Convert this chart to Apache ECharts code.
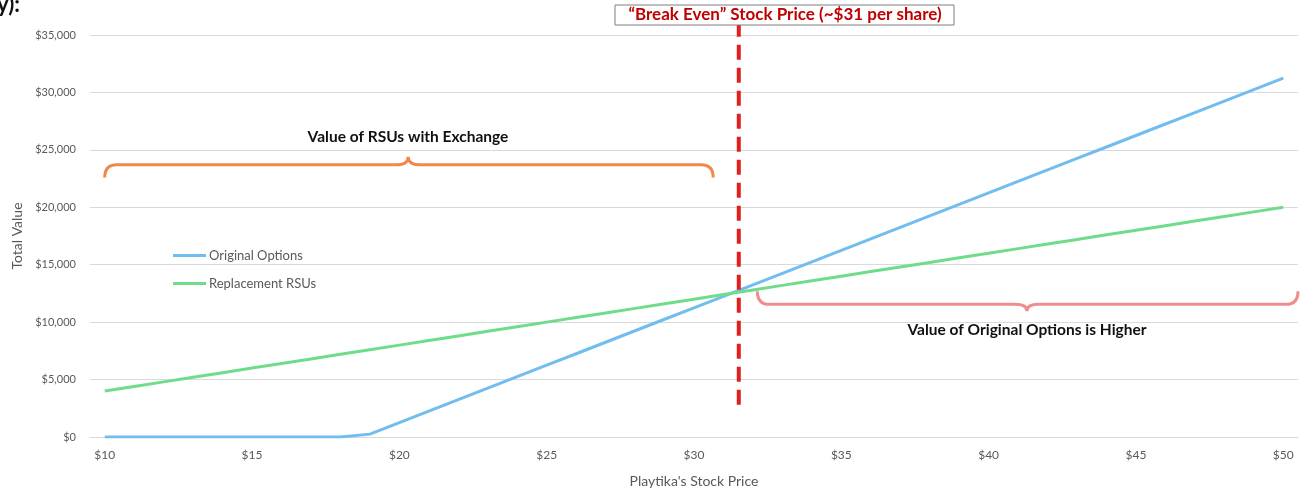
<!DOCTYPE html>
<html>
<head>
<meta charset="utf-8">
<script src="https://cdn.jsdelivr.net/npm/echarts@6/dist/echarts.min.js"></script>
<style>
  html, body { margin: 0; padding: 0; background: #fff; }
  #chart { width: 1307px; height: 493px; }
</style>
</head>
<body>
<div id="chart"></div>
<script>
var prices = ['$10','$11','$12','$13','$14','$15','$16','$17','$18','$19','$20',
  '$21','$22','$23','$24','$25','$26','$27','$28','$29','$30',
  '$31','$32','$33','$34','$35','$36','$37','$38','$39','$40',
  '$41','$42','$43','$44','$45','$46','$47','$48','$49','$50'];

var originalOptions = [0, 0, 0, 0, 0, 0, 0, 0, 0, 250, 1250,
  2250, 3250, 4250, 5250, 6250, 7250, 8250, 9250, 10250, 11250,
  12250, 13250, 14250, 15250, 16250, 17250, 18250, 19250, 20250, 21250,
  22250, 23250, 24250, 25250, 26250, 27250, 28250, 29250, 30250, 31250];

var replacementRSUs = [4000, 4400, 4800, 5200, 5600, 6000, 6400, 6800, 7200, 7600, 8000,
  8400, 8800, 9200, 9600, 10000, 10400, 10800, 11200, 11600, 12000,
  12400, 12800, 13200, 13600, 14000, 14400, 14800, 15200, 15600, 16000,
  16400, 16800, 17200, 17600, 18000, 18400, 18800, 19200, 19600, 20000];

// break-even price and the ends of the dashed marker (value units)
var breakEven = 31.52;
var breakEvenSpan = [2800, 35900];

// braces: [fromPrice, toPrice, tipPrice, endValue, lineValue, tipValue]
var braceRSU = [10, 30.65, 20.3, 22600, 23700, 24400];
var braceOptions = [32.15, 50.5, 41.3, 12700, 11550, 10950];

var font = 'Lato';
var chart = echarts.init(document.getElementById('chart'));

function braceItem(b, color) {
  return function (params, api) {
    var p0 = api.coord([b[0], b[3]]);
    var p1 = api.coord([b[1], b[3]]);
    var pl = api.coord([b[2], b[4]]);
    var pt = api.coord([b[2], b[5]]);
    var y0 = p0[1], yl = pl[1], yt = pt[1];
    var x0 = p0[0], x1 = p1[0], xm = pt[0];
    var r = 12;
    var d = 'M' + x0 + ',' + y0 +
      ' Q' + x0 + ',' + yl + ' ' + (x0 + r) + ',' + yl +
      ' L' + (xm - r) + ',' + yl +
      ' Q' + xm + ',' + yl + ' ' + xm + ',' + yt +
      ' Q' + xm + ',' + yl + ' ' + (xm + r) + ',' + yl +
      ' L' + (x1 - r) + ',' + yl +
      ' Q' + x1 + ',' + yl + ' ' + x1 + ',' + y0;
    return {
      type: 'path',
      shape: { pathData: d },
      style: { fill: 'none', stroke: color, lineWidth: 3 }
    };
  };
}

var option = {
  backgroundColor: '#fff',
  animation: false,
  grid: { left: 90, right: 9, top: 35, bottom: 55 },
  legend: {
    left: 168, top: 244, orient: 'vertical',
    icon: 'rect', itemWidth: 33, itemHeight: 3, itemGap: 15,
    data: ['Original Options', 'Replacement RSUs'],
    textStyle: { fontFamily: font, fontSize: 13, color: '#595959', lineHeight: 13, padding: [0, 0, 0, -2] }
  },
  xAxis: [{
    type: 'category',
    data: prices,
    boundaryGap: true,
    name: "Playtika's Stock Price",
    nameLocation: 'middle',
    nameGap: 37,
    nameTextStyle: { fontFamily: font, fontSize: 14, color: '#595959' },
    axisLine: { lineStyle: { color: '#d9d9d9', width: 1 } },
    axisTick: { show: false },
    axisLabel: { interval: 4, margin: 12, fontFamily: font, fontSize: 12, color: '#595959' }
  }, {
    type: 'value', min: 9.5, max: 50.5, show: false
  }],
  yAxis: {
    type: 'value', min: 0, max: 35000, interval: 5000,
    name: 'Total Value',
    nameLocation: 'middle',
    nameGap: 64,
    nameTextStyle: { fontFamily: font, fontSize: 14, color: '#595959' },
    axisLine: { show: false },
    axisTick: { show: false },
    splitLine: { lineStyle: { color: '#d9d9d9', width: 1 } },
    axisLabel: {
      margin: 14, fontFamily: font, fontSize: 11, color: '#595959',
      formatter: function (v) { return '$' + v.toLocaleString('en-US'); }
    }
  },
  series: [{
    name: 'Original Options', type: 'line', data: originalOptions,
    symbol: 'none', color: '#71bdf0',
    lineStyle: { width: 3, color: '#71bdf0' }
  }, {
    name: 'Replacement RSUs', type: 'line', data: replacementRSUs,
    symbol: 'none', color: '#6fdc8c',
    lineStyle: { width: 3, color: '#6fdc8c' }
  }, {
    type: 'line', xAxisIndex: 1, clip: false, symbol: 'none', z: 5,
    data: [[breakEven, breakEvenSpan[0]], [breakEven, breakEvenSpan[1]]],
    lineStyle: { color: '#e0201e', width: 4, type: [15, 8] },
    silent: true
  }, {
    type: 'custom', xAxisIndex: 1, clip: false, silent: true,
    data: [[braceRSU[2], braceRSU[5]]],
    renderItem: braceItem(braceRSU, '#f0884c')
  }, {
    type: 'custom', xAxisIndex: 1, clip: false, silent: true,
    data: [[braceOptions[2], braceOptions[5]]],
    renderItem: braceItem(braceOptions, '#f08c8e')
  }],
  graphic: [{
    type: 'text', left: -3, top: -6,
    style: { text: 'y):', font: 'bold 22px ' + font, fill: '#111' }
  }, {
    type: 'rect', shape: { x: 615, y: 5, width: 339, height: 20 },
    style: { fill: '#fff', stroke: '#7f7f7f', lineWidth: 1 }, z: 10
  }, {
    type: 'text', x: 785, y: 15, z: 11,
    style: {
      text: '\u201CBreak Even\u201D Stock Price (~$31 per share)',
      font: 'bold 17px ' + font, fill: '#c00000', align: 'center', verticalAlign: 'middle'
    }
  }, {
    type: 'text', x: 408, y: 137,
    style: {
      text: 'Value of RSUs with Exchange',
      font: 'bold 15.5px ' + font, fill: '#111', align: 'center', verticalAlign: 'middle'
    }
  }, {
    type: 'text', x: 1027, y: 330,
    style: {
      text: 'Value of Original Options is Higher',
      font: 'bold 15.5px ' + font, fill: '#111', align: 'center', verticalAlign: 'middle'
    }
  }]
};

chart.setOption(option);
</script>
</body>
</html>
